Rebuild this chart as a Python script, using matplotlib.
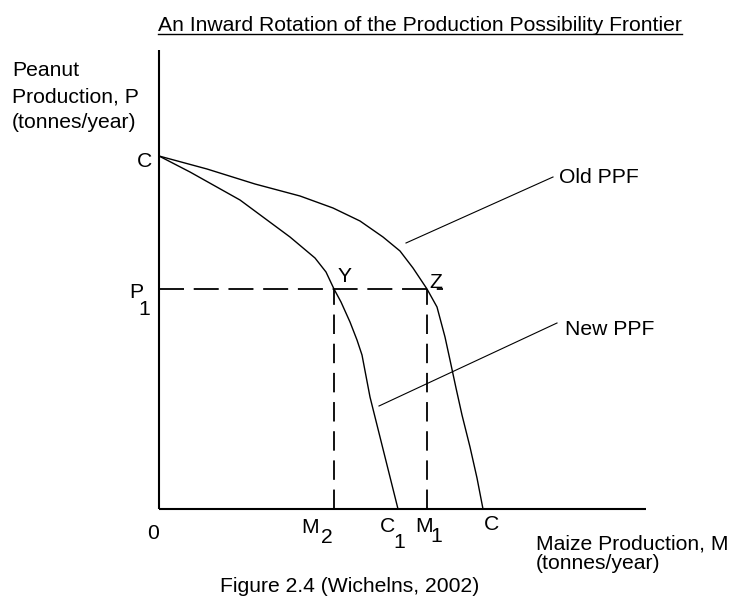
import matplotlib
matplotlib.use("Agg")
import matplotlib.pyplot as plt
from matplotlib.lines import Line2D

# ---- data (maize M, peanut P) ----
old_m = [0, 4.8, 9.6, 14.1, 17.4, 20.1, 22.4, 24.1, 25.4, 26.8, 27.8, 28.6, 29.1, 29.7, 30.3, 31.1, 31.8, 32.4]
old_p = [35.3, 34.0, 32.5, 31.3, 30.1, 28.8, 27.2, 25.8, 24.1, 22.0, 20.2, 17.2, 14.9, 12.1, 9.4, 6.2, 3.1, 0]
new_m = [0, 3.1, 8.1, 13.1, 15.6, 16.7, 17.5, 18.2, 19.1, 19.8, 20.3, 21.1, 22.1, 23.1, 23.9]
new_p = [35.3, 33.7, 30.9, 27.2, 25.1, 23.7, 22.0, 20.7, 18.7, 16.9, 15.4, 11.2, 7.2, 3.2, 0]
P1 = 22.0
M2 = 17.5
M1 = 26.8
y_axis_top = 45.9
x_axis_end = 48.7
dash_end = 28.4
old_leader_m = [24.7, 39.4]
old_leader_p = [26.6, 33.2]
new_leader_m = [22.0, 39.8]
new_leader_p = [10.3, 18.6]

FAM = ['Liberation Sans', 'DejaVu Sans']
FS = 15.2

fig = plt.figure(figsize=(7.36, 6.02), dpi=100)
ax = fig.add_axes([0, 0, 1, 1])
ax.set_xlim(-15.9, 57.7)
ax.set_ylim(-9.3, 50.9)
ax.axis('off')

# axes
ax.plot([0, 0], [0, y_axis_top], color='black', lw=1.5, solid_capstyle='butt')
ax.plot([0, x_axis_end], [0, 0], color='black', lw=1.5, solid_capstyle='butt')

# curves
ax.plot(old_m, old_p, color='black', lw=1.0)
ax.plot(new_m, new_p, color='black', lw=1.0)

# dashed guides
lwd = 1.3
ax.plot([0, dash_end], [P1, P1], color='black', lw=lwd, dashes=(18/lwd, 7/lwd))
ax.plot([M2, M2], [0, P1], color='black', lw=lwd, dashes=(14/lwd, 7/lwd))
ax.plot([M1, M1], [0, P1], color='black', lw=lwd, dashes=(14/lwd, 7/lwd))

# leaders
ax.plot(old_leader_m, old_leader_p, color='black', lw=0.8)
ax.plot(new_leader_m, new_leader_p, color='black', lw=0.8)

def T(x, y, s, ha='left', va='baseline', **kw):
    return ax.text(x, y, s, ha=ha, va=va, family=FAM, fontsize=FS, color='black', **kw)

def px(xp, yp):
    return ((xp - 159) / 10.0, (509 - yp) / 10.0)

title = T(*px(420, 31), 'An Inward Rotation of the Production Possibility Frontier', ha='center')
T(*px(12, 76), 'Peanut')
T(*px(12, 102), 'Production, P')
T(*px(12, 128), '(tonnes/year)')
T(*px(145, 167), 'C', ha='center')
T(*px(136.5, 298), 'P', ha='center')
T(*px(144, 315), '1', ha='center')
T(*px(153.5, 539), '0', ha='center')
T(*px(310.5, 533), 'M', ha='center')
T(*px(326.5, 543), '2', ha='center')
T(*px(387.5, 532), 'C', ha='center')
T(*px(399.5, 548), '1', ha='center')
T(*px(424, 532), 'M', ha='center')
T(*px(436.5, 542), '1', ha='center')
T(*px(491.5, 530), 'C', ha='center')
T(*px(344.5, 282), 'Y', ha='center')
T(*px(435.5, 288), 'Z', ha='center')
T(*px(559, 183), 'Old PPF')
T(*px(565, 335), 'New PPF')
T(*px(536, 550), 'Maize Production, M')
T(*px(536, 569), '(tonnes/year)')
T(*px(350, 592), 'Figure 2.4 (Wichelns, 2002)', ha='center')

# underline title
fig.canvas.draw()
bb = title.get_window_extent()
inv = ax.transData.inverted()
(x0, _), (x1, _) = inv.transform([(bb.x0, 0), (bb.x1, 0)])
uy = px(0, 34)[1]
ax.add_line(Line2D([x0, x1], [uy, uy], color='black', lw=1.0))

fig.savefig('out.png', dpi=100, facecolor='white')
